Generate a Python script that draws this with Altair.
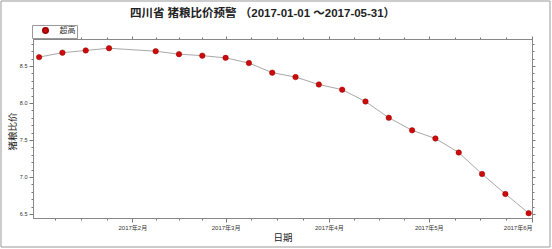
import altair as alt
import pandas as pd

dates = ["2017-01-04", "2017-01-11", "2017-01-18", "2017-01-25", "2017-02-08",
         "2017-02-15", "2017-02-22", "2017-03-01", "2017-03-08", "2017-03-15",
         "2017-03-22", "2017-03-29", "2017-04-05", "2017-04-12", "2017-04-19",
         "2017-04-26", "2017-05-03", "2017-05-10", "2017-05-17", "2017-05-24",
         "2017-05-31"]
ratios = [8.62, 8.68, 8.71, 8.74, 8.70, 8.66, 8.64, 8.61, 8.54, 8.41,
          8.35, 8.25, 8.18, 8.02, 7.80, 7.63, 7.52, 7.33, 7.04, 6.77, 6.51]
series_name = "超高"
title_text = "四川省 猪粮比价预警 （2017-01-01 ～2017-05-31）"
y_title = "猪粮比价"
x_title = "日期"

df = pd.DataFrame({"date": dates, "ratio": ratios, "series": [series_name] * len(dates)})

# tick positions: month starts plus quarter-month minor ticks
month_starts = pd.date_range("2017-01-01", "2017-06-01", freq="MS")
tick_ts = []
for a, b in zip(month_starts[:-1], month_starts[1:]):
    for k in range(4):
        tick_ts.append(a + (b - a) * k / 4)
tick_ts.append(month_starts[-1])
tick_ts = [t for t in tick_ts if t >= pd.Timestamp("2017-01-02 04:00")]


def dt(t):
    return alt.DateTime(year=t.year, month=t.month, date=t.day, hours=t.hour, utc=True)


x_ticks = [dt(t) for t in tick_ts]
y_ticks = [round(6.5 + 0.1 * i, 1) for i in range(24)]

x_major = "utcdate(datum.value) == 1 && utchours(datum.value) == 0"
y_major = "abs(datum.value * 2 - round(datum.value * 2)) < 0.001"

font = "Liberation Sans, Noto Sans CJK SC"
cjk = "Noto Sans CJK SC"

x_scale = alt.Scale(type="utc", domain=[alt.DateTime(year=2017, month=1, date=2, hours=4, utc=True),
                                        alt.DateTime(year=2017, month=6, date=1, utc=True)])
y_scale = alt.Scale(domain=[6.445, 8.865], nice=False, zero=False)

x_axis = alt.Axis(values=x_ticks, labelExpr=f"{x_major} ? utcyear(datum.value) + '年' + (utcmonth(datum.value) + 1) + '月' : ''",
                  tickSize={"condition": {"test": x_major, "value": 4}, "value": 2},
                  labelOverlap=False, grid=False, labelFontSize=6, labelFont=font, labelColor="#333",
                  labelPadding=2, title=x_title, titleFont=cjk, titleFontSize=9.5, titleFontWeight="normal",
                  titleColor="#222", titleY=19, titleBaseline="middle", domainColor="#888", tickColor="#777")
y_axis = alt.Axis(values=y_ticks, labelExpr=f"{y_major} ? format(datum.value, '.1f') : ''",
                  tickSize={"condition": {"test": y_major, "value": 4}, "value": 2},
                  labelOverlap=False, grid=False, labelFontSize=5.5, labelFont=font, labelColor="#333",
                  labelPadding=2, title=y_title, titleFont=cjk, titleFontSize=9.5, titleFontWeight="normal",
                  titleColor="#222", titleX=-21, titleY=92, titleAngle=-90, titleAlign="center",
                  titleBaseline="middle", domainColor="#888", tickColor="#777")
x_axis_top = alt.Axis(values=x_ticks, orient="top", labels=False, title=None, grid=False,
                      tickSize={"condition": {"test": x_major, "value": 3}, "value": 2},
                      domainColor="#888", tickColor="#777")
y_axis_right = alt.Axis(values=y_ticks, orient="right", labels=False, title=None, grid=False,
                        tickSize={"condition": {"test": y_major, "value": 3}, "value": 2},
                        domainColor="#888", tickColor="#777")

base = alt.Chart(df)

line = base.mark_line(color="#a8a8a8", strokeWidth=1).encode(
    x=alt.X("date:T", scale=x_scale, axis=x_axis),
    y=alt.Y("ratio:Q", scale=y_scale, axis=y_axis),
)

points = base.mark_point(filled=True, size=30, opacity=1, stroke="#990000", strokeWidth=0.5).encode(
    x=alt.X("date:T", scale=x_scale, axis=x_axis_top),
    y=alt.Y("ratio:Q", scale=y_scale, axis=y_axis_right),
    color=alt.Color("series:N", scale=alt.Scale(range=["#cc0a0a"]),
                    legend=alt.Legend(title=None, orient="none", legendX=-1, legendY=-14,
                                      fillColor="white", strokeColor="#999", padding=1.5,
                                      symbolSize=30, symbolOffset=8, labelOffset=10,
                                      labelFont=cjk, labelFontSize=8, labelColor="#333",
                                      labelExpr="datum.label + '\u2003'")),
)

frame = alt.Chart(pd.DataFrame({"a": [0]})).mark_rect(fillOpacity=0, stroke="#999", strokeWidth=1).encode(
    x=alt.value(-32), x2=alt.value(517), y=alt.value(-38), y2=alt.value(208)
)

chart = alt.layer(frame, line, points).resolve_axis(x="independent", y="independent").properties(
    width=499, height=179,
    autosize=alt.AutoSizeParams(type="none"),
    padding={"left": 33, "top": 39, "right": 20, "bottom": 31},
    title=alt.Title(title_text, font=font, fontSize=11.5, fontWeight="bold", color="#222",
                    anchor="middle", dx=-20, offset=-19),
    background="white",
).configure_view(stroke="#888", strokeWidth=1)

chart.save("out.html", embed_options={"renderer": "svg", "actions": False})
